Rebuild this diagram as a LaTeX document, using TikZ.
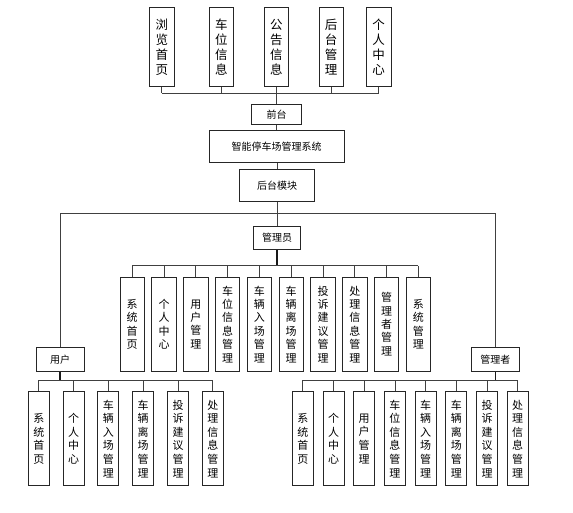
\documentclass[tikz,border=0pt]{standalone}
\usepackage{fontspec}
\setmainfont{Noto Sans CJK SC}
\tikzset{
  box/.style={draw=black!85, line width=0.9pt, fill=white, inner sep=0pt, align=center, font=\fontsize{10}{13.4}\selectfont},
  topbox/.style={box, minimum width=24.5pt, minimum height=79.3pt, font=\fontsize{12.5}{15}\selectfont},
  midbox/.style={box, minimum width=24.4pt, minimum height=93.7pt, font=\fontsize{11}{13.4}\selectfont},
  lowbox/.style={box, minimum width=21pt, minimum height=94pt, font=\fontsize{11}{13.6}\selectfont},
  hbox/.style={box},
  conn/.style={draw=black!75, line width=0.8pt},
  stub/.style={draw=black!90, line width=1.4pt}
}
\begin{document}
\begin{tikzpicture}[x=1pt,y=-1pt]
\useasboundingbox (0,0) rectangle (573,513);
% top row
\node[topbox] (t1) at (161.8,47.3) {浏\\览\\首\\页};
\node[topbox] (t2) at (221.3,47.3) {车\\位\\信\\息};
\node[topbox] (t3) at (276.3,47.3) {公\\告\\信\\息};
\node[topbox] (t4) at (331.2,47.3) {后\\台\\管\\理};
\node[topbox] (t5) at (378.7,47.3) {个\\人\\中\\心};
\node[hbox, minimum width=50pt, minimum height=20pt] (qt) at (276.5,114.3) {前台};
\node[hbox, minimum width=135pt, minimum height=31.7pt] (sys) at (276.7,146.8) {智能停车场管理系统};
\node[hbox, minimum width=75pt, minimum height=31.7pt] (ht) at (277,185.8) {后台模块};
\node[hbox, minimum width=47.7pt, minimum height=22.7pt] (gly) at (277,238) {管理员};
\node[hbox, minimum width=48pt, minimum height=24.4pt] (yh) at (60,359.5) {用户};
\node[hbox, minimum width=47.7pt, minimum height=24.4pt] (glz) at (495.3,359.5) {管理者};
% admin (管理员) children
\node[midbox] (a1) at (132.2,324.2) {系\\统\\首\\页};
\node[midbox] (a2) at (164.0,324.2) {个\\人\\中\\心};
\node[midbox] (a3) at (195.8,324.2) {用\\户\\管\\理};
\node[midbox] (a4) at (227.6,324.2) {车\\位\\信\\息\\管\\理};
\node[midbox] (a5) at (259.4,324.2) {车\\辆\\入\\场\\管\\理};
\node[midbox] (a6) at (291.2,324.2) {车\\辆\\离\\场\\管\\理};
\node[midbox] (a7) at (323.0,324.2) {投\\诉\\建\\议\\管\\理};
\node[midbox] (a8) at (354.8,324.2) {处\\理\\信\\息\\管\\理};
\node[midbox] (a9) at (386.6,324.2) {管\\理\\者\\管\\理};
\node[midbox] (a10) at (418.4,324.2) {系\\统\\管\\理};
% user children
\node[lowbox] (u1) at (38.8,438.7) {系\\统\\首\\页};
\node[lowbox] (u2) at (73.6,438.7) {个\\人\\中\\心};
\node[lowbox] (u3) at (108.4,438.7) {车\\辆\\入\\场\\管\\理};
\node[lowbox] (u4) at (143.2,438.7) {车\\辆\\离\\场\\管\\理};
\node[lowbox] (u5) at (178.0,438.7) {投\\诉\\建\\议\\管\\理};
\node[lowbox] (u6) at (212.8,438.7) {处\\理\\信\\息\\管\\理};
% manager children
\node[lowbox] (m1) at (302.8,438.7) {系\\统\\首\\页};
\node[lowbox] (m2) at (333.5,438.7) {个\\人\\中\\心};
\node[lowbox] (m3) at (364.2,438.7) {用\\户\\管\\理};
\node[lowbox] (m4) at (394.9,438.7) {车\\位\\信\\息\\管\\理};
\node[lowbox] (m5) at (425.6,438.7) {车\\辆\\入\\场\\管\\理};
\node[lowbox] (m6) at (456.3,438.7) {车\\辆\\离\\场\\管\\理};
\node[lowbox] (m7) at (487.0,438.7) {投\\诉\\建\\议\\管\\理};
\node[lowbox] (m8) at (517.7,438.7) {处\\理\\信\\息\\管\\理};
% top connectors
\foreach \n in {t1,t2,t3,t4,t5} \draw[conn] (\n.south) -- (\n.south |- 0,93.3);
\draw[conn] (t1.south |- 0,93.3) -- (t5.south |- 0,93.3);
\draw[conn] (qt.north) -- (qt.north |- 0,93.3);
\draw[conn] (qt.south) -- (sys.north -| qt.south);
\draw[conn] (sys.south -| ht.north) -- (ht.north);
\draw[conn] (ht.south) -- (gly.north);
\draw[conn] (yh.north) -- (yh.north |- 0,213) -- (glz.north |- 0,213) -- (glz.north);
% 管理员 bus
\draw[stub] (gly.south) -- (gly.south |- 0,265.7);
\draw[conn] (a1.north |- 0,265.7) -- (a10.north |- 0,265.7);
\foreach \n in {a1,a2,a3,a4,a5,a6,a7,a8,a9,a10} \draw[conn] (\n.north) -- (\n.north |- 0,265.7);
% 用户 bus
\draw[stub] (yh.south) -- (yh.south |- 0,380);
\draw[conn] (u1.north |- 0,380) -- (u6.north |- 0,380);
\foreach \n in {u1,u2,u3,u4,u5,u6} \draw[conn] (\n.north) -- (\n.north |- 0,380);
% 管理者 bus
\draw[stub] (glz.south) -- (glz.south |- 0,380);
\draw[conn] (m1.north |- 0,380) -- (m8.north |- 0,380);
\foreach \n in {m1,m2,m3,m4,m5,m6,m7,m8} \draw[conn] (\n.north) -- (\n.north |- 0,380);
\end{tikzpicture}
\end{document}
